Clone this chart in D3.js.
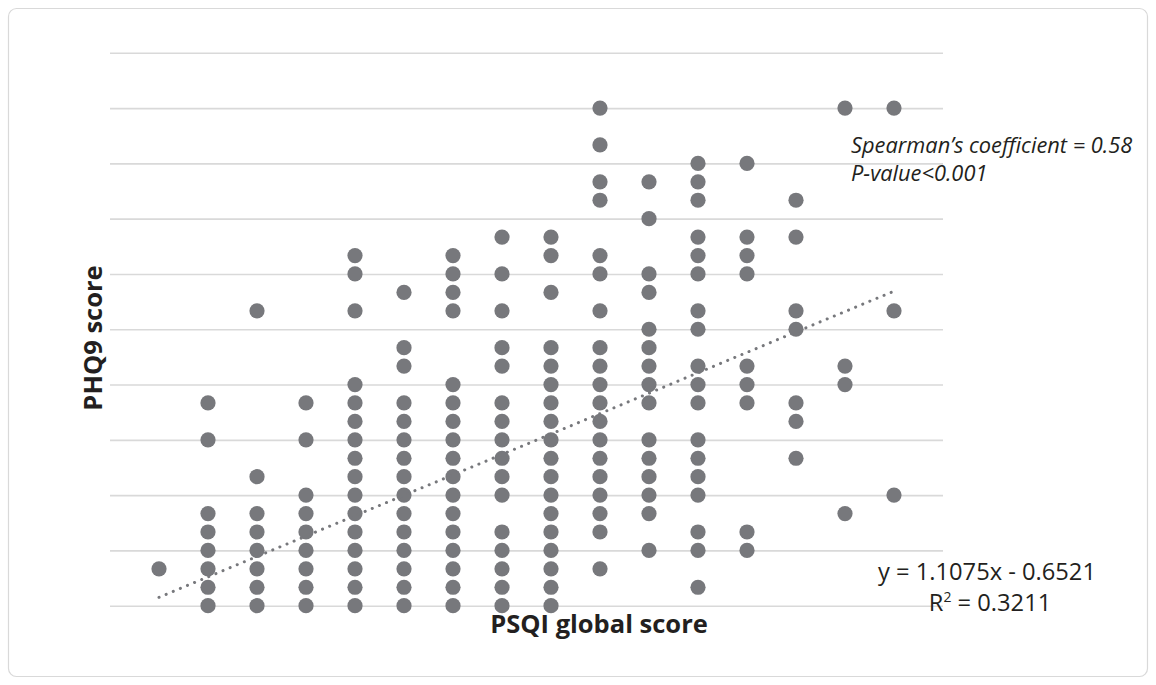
<!DOCTYPE html>
<html>
<head>
<meta charset="utf-8">
<script src="https://cdn.jsdelivr.net/npm/d3@7"></script>
<style>
  body { margin: 0; background: #fff; }
  svg text { font-family: "Open Sans", "Noto Sans", sans-serif; fill: #231f20; }
</style>
</head>
<body>
<div id="chart"></div>
<script>
// PSQI global score (x) and the PHQ9 scores seen at each one
var psqiScores = [1, 2, 3, 4, 5, 6, 7, 8, 9, 10, 11, 12, 13, 14, 15, 16];
var phq9ByPsqi = [
	[2],
	[0, 1, 2, 3, 4, 5, 9, 11],
	[0, 1, 2, 3, 4, 5, 7, 16],
	[0, 1, 2, 3, 4, 5, 6, 9, 11],
	[0, 1, 2, 3, 4, 5, 6, 7, 8, 9, 10, 11, 12, 16, 18, 19],
	[0, 1, 2, 3, 4, 5, 6, 7, 8, 9, 10, 11, 13, 14, 17],
	[0, 1, 2, 3, 4, 5, 6, 7, 8, 9, 10, 11, 12, 16, 17, 18, 19],
	[0, 1, 2, 3, 4, 6, 7, 8, 9, 10, 11, 13, 14, 16, 18, 20],
	[0, 1, 2, 3, 4, 5, 6, 7, 8, 9, 10, 11, 12, 13, 14, 17, 19, 20],
	[2, 4, 5, 6, 7, 8, 9, 10, 11, 12, 13, 14, 16, 18, 19, 22, 23, 25, 27],
	[3, 5, 6, 7, 8, 9, 11, 12, 13, 14, 15, 17, 18, 21, 23],
	[1, 3, 4, 6, 7, 8, 9, 11, 12, 13, 15, 16, 18, 19, 20, 22, 23, 24],
	[3, 4, 11, 12, 13, 18, 19, 20, 24],
	[8, 10, 11, 15, 16, 20, 22],
	[5, 12, 13, 27],
	[6, 16, 27]
];
var yTicks = [0, 3, 6, 9, 12, 15, 18, 21, 24, 27, 30];

// linear trend line from the chart
var trendSlope = 1.1075,
	trendIntercept = -0.6521,
	trendRange = [1, 16];

var width = 1156,
	height = 685;

var svg = d3.select("#chart").append("svg")
	.attr("width", width)
	.attr("height", height);

// outer frame
svg.append("rect")
	.attr("x", 8.5).attr("y", 8.5)
	.attr("width", 1139).attr("height", 668)
	.attr("rx", 8)
	.style("fill", "#fff")
	.style("stroke", "#d9d9d9")
	.style("stroke-width", 1.2);

var x = d3.scaleLinear().domain([0, 17]).range([110, 943]);
var y = d3.scaleLinear().domain([0, 30]).range([605.7, 52.8]);

// gridlines through the axis generator, no labels
var grid = svg.append("g")
	.attr("transform", "translate(" + x(0) + ",0)")
	.call(d3.axisLeft(y).tickValues(yTicks).tickSize(-(x(17) - x(0))).tickFormat(""));
grid.select(".domain").remove();
grid.selectAll(".tick line")
	.style("stroke", "#d9d9d9")
	.style("stroke-width", 1.6);

// flatten the per-score lists into points
var points = [];
psqiScores.forEach(function(s, i) {
	phq9ByPsqi[i].forEach(function(v) { points.push({x: s, y: v}); });
});

svg.append("g").selectAll("circle")
	.data(points)
	.enter().append("circle")
	.attr("cx", function(d) { return x(d.x); })
	.attr("cy", function(d) { return y(d.y); })
	.attr("r", 7.6)
	.style("fill", "#77787c");

// dotted trend line
var line = d3.line()
	.x(function(d) { return x(d); })
	.y(function(d) { return y(trendSlope * d + trendIntercept); });

svg.append("path")
	.datum(trendRange)
	.attr("d", line)
	.style("fill", "none")
	.style("stroke", "#77787c")
	.style("stroke-width", 3)
	.style("stroke-linecap", "round")
	.style("stroke-dasharray", "0.1,7.6");

// axis titles
svg.append("text")
	.attr("x", 599).attr("y", 633)
	.attr("text-anchor", "middle")
	.style("font-weight", "bold")
	.style("font-size", "25.5px")
	.text("PSQI global score");

svg.append("text")
	.attr("transform", "translate(102,338) rotate(-90)")
	.attr("text-anchor", "middle")
	.style("font-weight", "bold")
	.style("font-size", "25.5px")
	.text("PHQ9 score");

// statistics
svg.append("text")
	.attr("x", 851).attr("y", 153)
	.style("font-style", "italic")
	.style("font-size", "21.8px")
	.text("Spearman\u2019s coefficient = 0.58");

svg.append("text")
	.attr("x", 851).attr("y", 181)
	.style("font-style", "italic")
	.style("font-size", "21.8px")
	.text("P-value<0.001");

var eq = svg.append("text")
	.attr("text-anchor", "middle")
	.style("font-size", "23.7px");
eq.append("tspan").attr("x", 987).attr("y", 580).text("y = 1.1075x - 0.6521");
var r2 = eq.append("tspan").attr("x", 990).attr("y", 611).text("R");
r2.append("tspan").attr("dy", -9).style("font-size", "14px").text("2");
r2.append("tspan").attr("dy", 9).text(" = 0.3211");
</script>
</body>
</html>
